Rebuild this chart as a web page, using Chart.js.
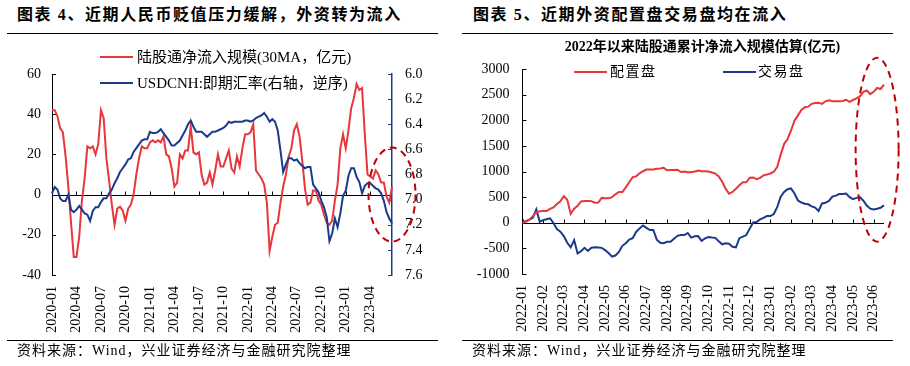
<!DOCTYPE html>
<html>
<head>
<meta charset="utf-8">
<script src="https://cdn.jsdelivr.net/npm/chart.js@4.4.0/dist/chart.umd.min.js"></script>
<style>
  html, body { margin: 0; padding: 0; background: #fff; }
  body { width: 910px; height: 366px; position: relative; overflow: hidden;
         font-family: "Liberation Serif", "Noto Sans CJK SC", serif; color: #000; }
  .abs { position: absolute; white-space: nowrap; }
  .title { top: 4px; font: bold 16px "Liberation Serif", "Noto Sans CJK SC", serif; letter-spacing: 1.6px; line-height: 22px; }
  .rule { height: 1px; background: #000; }
  .source { top: 341px; font-size: 14px; line-height: 20px; letter-spacing: 1px; }
  .leg { font-size: 15px; line-height: 18px; }
  .sw { position: absolute; height: 2px; width: 33px; }
  canvas { position: absolute; top: 0; }
</style>
</head>
<body>

<div class="abs title" style="left:17px">图表 4、近期人民币贬值压力缓解，外资转为流入</div>
<div class="abs title" style="left:473px">图表 5、近期外资配置盘交易盘均在流入</div>
<div class="abs rule" style="left:7px;width:431px;top:33px"></div>
<div class="abs rule" style="left:462px;width:431px;top:33px"></div>

<canvas id="left-chart" width="455" height="366" style="left:0"></canvas>
<canvas id="right-chart" width="455" height="366" style="left:455px"></canvas>

<!-- legends -->
<div class="sw abs" style="left:100px;top:56px;background:#E8363A"></div>
<div class="abs leg" style="left:137px;top:48px">陆股通净流入规模(30MA，亿元)</div>
<div class="sw abs" style="left:100px;top:82px;background:#1B3A8C"></div>
<div class="abs leg" style="left:137px;top:74px">USDCNH:即期汇率(右轴，逆序)</div>

<div class="abs" style="left:555px;width:295px;top:38px;text-align:center;font:bold 14px 'Liberation Serif','Noto Sans CJK SC',serif;line-height:18px">2022年以来陆股通累计净流入规模估算(亿元)</div>
<div class="sw abs" style="left:574px;top:71px;background:#E8363A"></div>
<div class="abs leg" style="left:610px;top:63px;font-size:14px;letter-spacing:1.5px">配置盘</div>
<div class="sw abs" style="left:723px;top:71px;background:#1B3A8C"></div>
<div class="abs leg" style="left:758px;top:63px;font-size:14px;letter-spacing:1.5px">交易盘</div>

<div class="abs rule" style="left:7px;width:431px;top:340px"></div>
<div class="abs rule" style="left:462px;width:431px;top:340px"></div>
<div class="abs source" style="left:17px">资料来源：Wind，兴业证券经济与金融研究院整理</div>
<div class="abs source" style="left:472px">资料来源：Wind，兴业证券经济与金融研究院整理</div>

<script>
// ── Data ───────────────────────────────────────────
// left chart: values every 10 days (1st, 11th, 21st), 2020-01 .. 2023-06
const leftTicks = ['2020-01','2020-04','2020-07','2020-10','2021-01','2021-04','2021-07',
                   '2021-10','2022-01','2022-04','2022-07','2022-10','2023-01','2023-04'];

const northbound30ma = [
  42, 42, 39, 33, 31, 19, 4, -14, -31, -31,
  -21, -3, 8, 24, 23, 24, 20, 25, 42, 38,
  18, 7, -5, -15, -7, -6, -8, -13, -7, -5,
  0, 10, 18, 24, 23, 23, 26, 27, 26, 27,
  26, 29, 20, 19, 13, 4, 6, 20, 18, 22,
  22, 34, 21, 20, 21, 10, 5, 6, 11, 5,
  12, 20, 14, 14, 18, 22, 13, 11, 19, 14,
  23, 30, 30, 31, 35, 12, 10, 8, 5, -4,
  -28, -21, -15, -14, -4, 4, 10, 19, 23, 32,
  35, 29, 17, 3, -5, -4, 2, 2, -3, -5,
  -10, -14, -15, -13, -3, 5, 23, 30, 23, 32,
  43, 48, 55, 52, 53, 30, 10, 9, 8, 12,
  10, 6, 6, -1, -4, 4
];

const usdcnh = [
  6.95, 6.90, 6.92, 6.99, 7.01, 7.01, 6.96, 7.08, 7.10, 7.08,
  7.05, 7.08, 7.11, 7.12, 7.17, 7.09, 7.06, 7.06, 7.02, 6.99,
  6.99, 6.95, 6.92, 6.87, 6.83, 6.78, 6.75, 6.72, 6.68, 6.67,
  6.62, 6.59, 6.56, 6.53, 6.52, 6.52, 6.46, 6.47, 6.47, 6.46,
  6.44, 6.47, 6.50, 6.53, 6.57, 6.57, 6.55, 6.53, 6.49, 6.45,
  6.40, 6.37, 6.42, 6.46, 6.46, 6.46, 6.48, 6.50, 6.48, 6.46,
  6.46, 6.45, 6.44, 6.43, 6.41, 6.38, 6.39, 6.38, 6.38, 6.38,
  6.38, 6.37, 6.37, 6.38, 6.37, 6.35, 6.34, 6.33, 6.31, 6.34,
  6.38, 6.36, 6.38, 6.45, 6.61, 6.78, 6.72, 6.67, 6.67, 6.69,
  6.68, 6.71, 6.73, 6.75, 6.74, 6.74, 6.88, 6.91, 6.94, 7.01,
  7.06, 7.14, 7.33, 7.27, 7.15, 7.22, 7.11, 6.97, 6.93, 6.81,
  6.75, 6.75, 6.82, 6.86, 6.95, 6.89, 6.87, 6.87, 6.89, 6.91,
  6.92, 6.95, 7.01, 7.10, 7.15, 7.19
];

// right chart: values every 5 days, 2022-01-01 .. 2023-06-16
const rightTicks = ['2022-01','2022-02','2022-03','2022-04','2022-05','2022-06','2022-07',
                    '2022-08','2022-09','2022-10','2022-11','2022-12','2023-01','2023-02',
                    '2023-03','2023-04','2023-05','2023-06'];

const allocation = [
  0, 20, 60, 130, 208, 225, 227, 230, 270, 300,
  365, 420, 520, 450, 175, 275, 330, 415, 425, 425,
  422, 390, 395, 485, 480, 480, 500, 555, 600, 600,
  690, 790, 890, 905, 965, 1005, 1039, 1039, 1039, 1052,
  1060, 1071, 1025, 1030, 1030, 1035, 990, 1000, 985, 985,
  1000, 1020, 1006, 1006, 1000, 980, 960, 905, 800, 665,
  565, 600, 665, 730, 790, 790, 880, 885, 850, 877,
  925, 942, 961, 995, 1090, 1330, 1540, 1635, 1800, 1990,
  2095, 2200, 2255, 2265, 2320, 2338, 2340, 2320, 2370, 2390,
  2370, 2370, 2370, 2375, 2400, 2360, 2395, 2425, 2465, 2555,
  2580, 2510, 2555, 2630, 2610, 2695
];

const trading = [
  0, 30, 60, 97, 260, 20, 52, 70, 85, -5,
  -125, -175, -260, -390, -480, -340, -600, -555, -490, -550,
  -487, -480, -485, -490, -535, -590, -660, -640, -570, -450,
  -400, -330, -300, -180, -110, -55, -100, -143, -140, -330,
  -390, -400, -370, -370, -310, -255, -240, -240, -200, -290,
  -265, -260, -355, -305, -280, -290, -295, -360, -420, -400,
  -410, -470, -480, -300, -270, -240, -115, 5, 15, 65,
  97, 130, 130, 170, 310, 510, 600, 655, 670, 570,
  435, 395, 370, 360, 320, 295, 230, 377, 390, 425,
  510, 530, 560, 560, 570, 500, 460, 485, 500, 430,
  335, 275, 260, 273, 292, 340
];

// category dates for each point
function makeDates(startYear, days, count) {
  const out = [];
  let y = startYear, m = 1;
  while (out.length < count) {
    for (const d of days) {
      if (out.length >= count) break;
      out.push(`${y}-${String(m).padStart(2, '0')}-${String(d).padStart(2, '0')}`);
    }
    m++; if (m > 12) { m = 1; y++; }
  }
  return out;
}
const leftDates  = makeDates(2020, [1, 11, 21], northbound30ma.length);
const rightDates = makeDates(2022, [1, 6, 11, 16, 21, 26], allocation.length);

const RED = '#E8363A', BLUE = '#1B3A8C';

Chart.defaults.font.family = '"Liberation Serif", "Noto Sans CJK SC", serif';
Chart.defaults.font.size = 14;
Chart.defaults.color = '#000';

// ── zero line with tick marks + inward y ticks ─────
const axisMarks = {
  id: 'axisMarks',
  beforeDatasetsDraw(chart, args, opts) {
    const { ctx, chartArea: a, scales } = chart;
    const y0 = Math.round(scales.y.getPixelForValue(0)) + 0.5;
    ctx.save();
    ctx.strokeStyle = '#000';
    ctx.lineWidth = 1;
    ctx.beginPath();
    ctx.moveTo(a.left, y0); ctx.lineTo(a.right, y0);
    opts.ticks.forEach(t => {
      const i = chart.data.labels.indexOf(t + '-01');
      const px = Math.round(scales.x.getPixelForValue(i)) + 0.5;
      ctx.moveTo(px, y0); ctx.lineTo(px, y0 - 4);
    });
    ctx.stroke();
    opts.yAxes.forEach(ax => {
      const s = scales[ax.id];
      ctx.strokeStyle = ax.color;
      ctx.beginPath();
      s.ticks.forEach(t => {
        const py = Math.round(s.getPixelForValue(t.value)) + 0.5;
        const x0 = s.position === 'left' ? a.left : a.right;
        const dir = s.position === 'left' ? 1 : -1;
        ctx.moveTo(x0, py); ctx.lineTo(x0 + dir * 4, py);
      });
      ctx.stroke();
    });
    ctx.restore();
  },
  afterDatasetsDraw(chart, args, opts) {
    const e = opts.ellipse;
    if (!e) return;
    const { ctx, scales } = chart;
    const cx = scales.x.getPixelForValue(e.x);
    const cy = scales[e.axis].getPixelForValue(e.y);
    ctx.save();
    ctx.strokeStyle = '#C00000';
    ctx.lineWidth = 2;
    ctx.setLineDash([7, 5]);
    ctx.beginPath();
    ctx.ellipse(cx, cy, e.rx, e.ry, 0, 0, Math.PI * 2);
    ctx.stroke();
    ctx.restore();
  }
};

function xAxis(dates, ticks, height) {
  return {
    type: 'category',
    grid: { display: false, drawTicks: false },
    border: { display: false },
    ticks: {
      autoSkip: false, minRotation: 90, maxRotation: 90, padding: 11,
      callback: (v) => {
        const d = dates[v];
        return d.endsWith('-01') && ticks.includes(d.slice(0, 7)) ? d.slice(0, 7) : null;
      }
    },
    afterFit: s => { s.height = height; }
  };
}

const line = (label, data, color, axis) => ({
  label, data, yAxisID: axis,
  borderColor: color, borderWidth: 2, pointRadius: 0, tension: 0, fill: false
});

// ── Figure 4 ───────────────────────────────────────
new Chart(document.getElementById('left-chart').getContext('2d'), {
  type: 'line',
  data: {
    labels: leftDates,
    datasets: [
      line('USDCNH:即期汇率(右轴，逆序)', usdcnh, BLUE, 'y2'),
      line('陆股通净流入规模(30MA，亿元)', northbound30ma, RED, 'y'),
    ]
  },
  plugins: [axisMarks],
  options: {
    responsive: false, animation: false,
    layout: { padding: { top: 74, left: 0, right: 0, bottom: 0 } },
    plugins: {
      legend: { display: false }, tooltip: { enabled: false },
      axisMarks: {
        ticks: leftTicks,
        yAxes: [{ id: 'y', color: '#000' }, { id: 'y2', color: BLUE }],
        ellipse: { x: 125, y: 0, axis: 'y', rx: 23.5, ry: 47 }
      }
    },
    scales: {
      x: xAxis(leftDates, leftTicks, 91),
      y: {
        position: 'left', min: -40, max: 60,
        ticks: { stepSize: 20, padding: 11, callback: v => String(v) },
        grid: { display: false, drawTicks: false },
        border: { color: '#000', width: 1 },
        afterFit: s => { s.width = 52; }
      },
      y2: {
        position: 'right', reverse: true, min: 6.0, max: 7.6,
        ticks: { stepSize: 0.2, padding: 13, callback: v => Number(v).toFixed(1) },
        grid: { display: false, drawTicks: false },
        border: { color: BLUE, width: 1.5 },
        afterFit: s => { s.width = 63; }
      }
    }
  }
});

// ── Figure 5 ───────────────────────────────────────
new Chart(document.getElementById('right-chart').getContext('2d'), {
  type: 'line',
  data: {
    labels: rightDates,
    datasets: [
      line('配置盘', allocation, RED, 'y'),
      line('交易盘', trading, BLUE, 'y'),
    ]
  },
  plugins: [axisMarks],
  options: {
    responsive: false, animation: false,
    layout: { padding: { top: 69, left: 0, right: 26, bottom: 0 } },
    plugins: {
      legend: { display: false }, tooltip: { enabled: false },
      axisMarks: {
        ticks: rightTicks,
        yAxes: [{ id: 'y', color: '#000' }],
        ellipse: { x: 103, y: 1426, axis: 'y', rx: 21.5, ry: 92 }
      }
    },
    scales: {
      x: xAxis(rightDates, rightTicks, 92),
      y: {
        position: 'left', min: -1000, max: 3000,
        ticks: { stepSize: 500, padding: 13, callback: v => String(v) },
        grid: { display: false, drawTicks: false },
        border: { color: '#000', width: 1 },
        afterFit: s => { s.width = 67.5; }
      }
    }
  }
});
</script>
</body>
</html>
